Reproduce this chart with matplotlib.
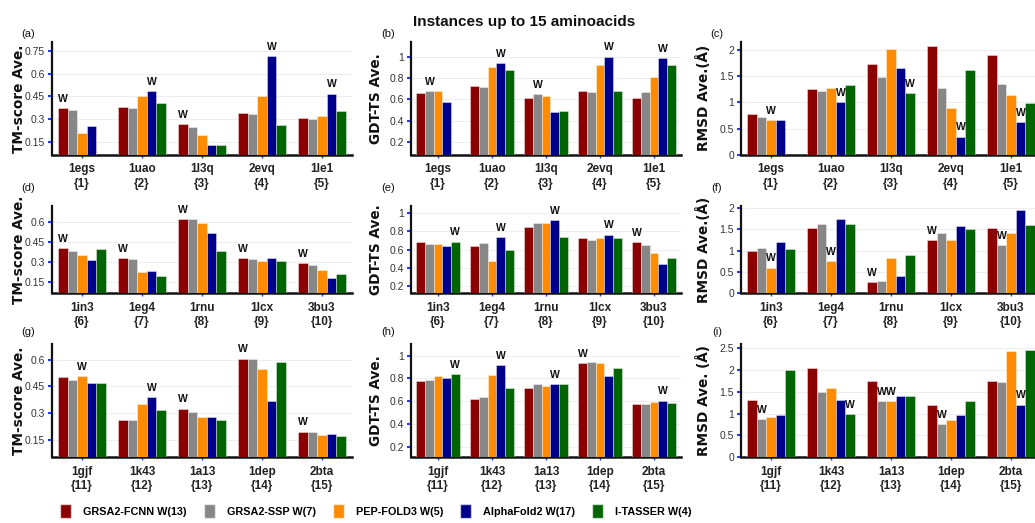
import numpy as np
import matplotlib
matplotlib.use("Agg")
import matplotlib.pyplot as plt
from matplotlib.patches import Patch
from matplotlib.ticker import FuncFormatter

plt.rcParams['font.family'] = ['Liberation Sans', 'DejaVu Sans']
YLABEL_FONT = ['DejaVu Sans']

# ---------------- data ----------------
methods = ['GRSA2-FCNN W(13)', 'GRSA2-SSP W(7)', 'PEP-FOLD3 W(5)', 'AlphaFold2 W(17)', 'I-TASSER W(4)']
colors = ['#8B0000', '#878787', '#FF8C00', '#00008B', '#006400']

proteins_r1 = ['1egs', '1uao', '1l3q', '2evq', '1le1']
ids_r1 = [1, 2, 3, 4, 5]
proteins_r2 = ['1in3', '1eg4', '1rnu', '1lcx', '3bu3']
ids_r2 = [6, 7, 8, 9, 10]
proteins_r3 = ['1gjf', '1k43', '1a13', '1dep', '2bta']
ids_r3 = [11, 12, 13, 14, 15]

nan = np.nan
# each panel: one list per method (FCNN, SSP, PEP-FOLD3, AlphaFold2, I-TASSER)
tm_a = [[0.37, 0.38, 0.265, 0.337, 0.304],
        [0.36, 0.373, 0.25, 0.33, 0.30],
        [0.205, 0.454, 0.197, 0.454, 0.318],
        [0.256, 0.485, 0.127, 0.713, 0.467],
        [nan, 0.408, 0.13, 0.263, 0.353]]
gdt_b = [[0.66, 0.728, 0.61, 0.678, 0.61],
         [0.678, 0.72, 0.653, 0.666, 0.666],
         [0.675, 0.903, 0.63, 0.925, 0.81],
         [0.572, 0.938, 0.478, 1.0, 0.99],
         [nan, 0.878, 0.49, 0.678, 0.92]]
rmsd_c = [[0.78, 1.25, 1.73, 2.06, 1.89],
          [0.73, 1.21, 1.48, 1.27, 1.35],
          [0.655, 1.28, 2.02, 0.885, 1.13],
          [0.673, 1.01, 1.66, 0.35, 0.62],
          [nan, 1.32, 1.18, 1.62, 0.99]]
tm_d = [[0.404, 0.332, 0.623, 0.332, 0.293],
        [0.384, 0.327, 0.618, 0.325, 0.278],
        [0.357, 0.228, 0.588, 0.312, 0.24],
        [0.32, 0.236, 0.514, 0.33, 0.186],
        [0.397, 0.196, 0.38, 0.307, 0.21]]
gdt_e = [[0.684, 0.64, 0.847, 0.73, 0.684],
         [0.665, 0.673, 0.887, 0.702, 0.651],
         [0.665, 0.473, 0.887, 0.73, 0.567],
         [0.636, 0.735, 0.92, 0.764, 0.44],
         [0.687, 0.596, 0.738, 0.73, 0.502]]
rmsd_f = [[1.0, 1.53, 0.257, 1.25, 1.52],
          [1.06, 1.63, 0.28, 1.41, 1.12],
          [0.6, 0.76, 0.825, 1.25, 1.41],
          [1.19, 1.735, 0.397, 1.58, 1.96],
          [1.035, 1.62, 0.895, 1.494, 1.595]]
tm_g = [[0.503, 0.263, 0.326, 0.606, 0.197],
        [0.488, 0.263, 0.304, 0.604, 0.197],
        [0.51, 0.35, 0.278, 0.55, 0.18],
        [0.469, 0.389, 0.281, 0.367, 0.185],
        [0.467, 0.317, 0.263, 0.589, 0.175]]
gdt_h = [[0.774, 0.615, 0.718, 0.933, 0.574],
         [0.782, 0.635, 0.747, 0.947, 0.577],
         [0.82, 0.829, 0.73, 0.933, 0.59],
         [0.803, 0.92, 0.753, 0.823, 0.606],
         [0.835, 0.72, 0.747, 0.895, 0.58]]
rmsd_i = [[1.31, 2.05, 1.75, 1.19, 1.75],
          [0.87, 1.49, 1.28, 0.76, 1.72],
          [0.92, 1.58, 1.28, 0.86, 2.43],
          [0.96, 1.31, 1.41, 0.96, 1.21],
          [2.01, 0.99, 1.40, 1.28, 2.47]]

# winners ("W") per group: list of method indices
win_a = [[0], [3], [0], [3], [3]]
win_b = [[1], [3], [1], [3], [3]]
win_c = [[2], [3], [4], [3], [3]]
win_d = [[0], [0], [0], [0], [0]]
win_e = [[4], [3], [3], [3], [0]]
win_f = [[2], [2], [0], [0], [1]]
win_g = [[2], [3], [0], [0], [0]]
win_h = [[4], [3], [3], [0], [3]]
win_i = [[1], [4], [1, 2], [1], [3]]

tm_ticks = [0.15, 0.3, 0.45, 0.6, 0.75]
gdt_ticks = [0.2, 0.4, 0.6, 0.8, 1.0]
rmsd_ticks = [0, 0.5, 1, 1.5, 2]
rmsd_ticks_i = [0, 0.5, 1, 1.5, 2, 2.5]

# ---------------- layout ----------------
W, H = 1035, 523
fig = plt.figure(figsize=(W / 100, H / 100), dpi=100)

col_left = [52, 411, 741]
col_width = [300, 270, 300]
row_top = [41.7, 205.7, 344.3]
row_bot = [155, 293.3, 457.3]

panels = [
    # row, col, data, wins, proteins, ids, ylim, ticks, ylabel, letter
    (0, 0, tm_a, win_a, proteins_r1, ids_r1, (0.062, 0.81), tm_ticks, 'TM-score Ave.', '(a)'),
    (0, 1, gdt_b, win_b, proteins_r1, ids_r1, (0.08, 1.14), gdt_ticks, 'GDT-TS Ave.', '(b)'),
    (0, 2, rmsd_c, win_c, proteins_r1, ids_r1, (0, 2.15), rmsd_ticks, 'RMSD Ave.(Å)', '(c)'),
    (1, 0, tm_d, win_d, proteins_r2, ids_r2, (0.069, 0.72), tm_ticks[:4], 'TM-score Ave.', '(d)'),
    (1, 1, gdt_e, win_e, proteins_r2, ids_r2, (0.12, 1.08), gdt_ticks, 'GDT-TS Ave.', '(e)'),
    (1, 2, rmsd_f, win_f, proteins_r2, ids_r2, (0, 2.05), rmsd_ticks, 'RMSD Ave.(Å)', '(f)'),
    (2, 0, tm_g, win_g, proteins_r3, ids_r3, (0.053, 0.686), tm_ticks[:4], 'TM-score Ave.', '(g)'),
    (2, 1, gdt_h, win_h, proteins_r3, ids_r3, (0.107, 1.1), gdt_ticks, 'GDT-TS Ave.', '(h)'),
    (2, 2, rmsd_i, win_i, proteins_r3, ids_r3, (0, 2.59), rmsd_ticks_i, 'RMSD Ave. (Å)', '(i)'),
]

label_x = [-0.087, -0.104, -0.10]
letter_x = [28, 388, 717]
letter_y = [34, 188, 332]

bw = 0.16
fmt = FuncFormatter(lambda v, p: ('%g' % v))

for r, c, data, wins, prots, ids, ylim, ticks, ylab, letter in panels:
    left = col_left[c] / W
    bottom = 1 - row_bot[r] / H
    ax = fig.add_axes([left, bottom, col_width[c] / W, (row_bot[r] - row_top[r]) / H])
    x = np.arange(len(prots))
    for j in range(5):
        vals = np.array(data[j], dtype=float)
        ax.bar(x + (j - 2) * bw, vals, width=bw, color=colors[j],
               edgecolor=(1, 1, 1, 0.55), linewidth=0.5, zorder=3)
    for g, wl in enumerate(wins):
        for j in wl:
            ax.annotate('W', xy=(g + (j - 2) * bw, data[j][g]), xytext=(0, 3),
                        textcoords='offset points', ha='center', va='bottom',
                        fontsize=7.5, fontweight='bold', color='#111111', zorder=4)
    ax.set_xlim(-0.5, 4.5)
    ax.set_ylim(*ylim)
    ax.set_yticks(ticks)
    ax.yaxis.set_major_formatter(fmt)
    ax.set_xticks(x)
    ax.set_xticklabels(['%s\n{%d}' % (p, i) for p, i in zip(prots, ids)],
                       fontsize=8.5, fontweight='bold', color='#222222', linespacing=1.3)
    ax.tick_params(axis='y', direction='out', length=3, width=1.5, color='#1f3fff',
                   labelsize=7.5, labelcolor='#333333', pad=2)
    ax.tick_params(axis='x', direction='out', length=2, width=1.0, color='#1f3fff', pad=4)
    ax.grid(axis='y', color='#eeeeee', linewidth=0.8, zorder=0)
    ax.set_axisbelow(True)
    for s in ['top', 'right']:
        ax.spines[s].set_visible(False)
    ax.spines['left'].set_linewidth(1.6)
    ax.spines['bottom'].set_linewidth(1.8)
    ax.spines['left'].set_color('#111111')
    ax.spines['bottom'].set_color('#111111')
    ax.set_ylabel(ylab, fontsize=9.8, fontweight='bold', color='#111111', family=YLABEL_FONT)
    ax.yaxis.set_label_coords(label_x[c], 0.5)
    fig.text(letter_x[c] / W, 1 - letter_y[r] / H, letter, fontsize=8,
             ha='center', va='center', color='#111111')

fig.text(524 / W, 1 - 22 / H, 'Instances up to 15 aminoacids', fontsize=11,
         fontweight='bold', ha='center', va='center', color='#111111')

handles = [Patch(facecolor=colors[j], edgecolor=(1, 1, 1, 0.6)) for j in range(5)]
fig.legend(handles, methods, loc='center', bbox_to_anchor=(376 / W, 1 - 511 / H),
           ncol=5, frameon=False, handlelength=1.0, handleheight=1.5,
           handletextpad=1.1, columnspacing=1.6,
           prop={'weight': 'bold', 'size': 7.8})

fig.savefig('out.png', dpi=100)
